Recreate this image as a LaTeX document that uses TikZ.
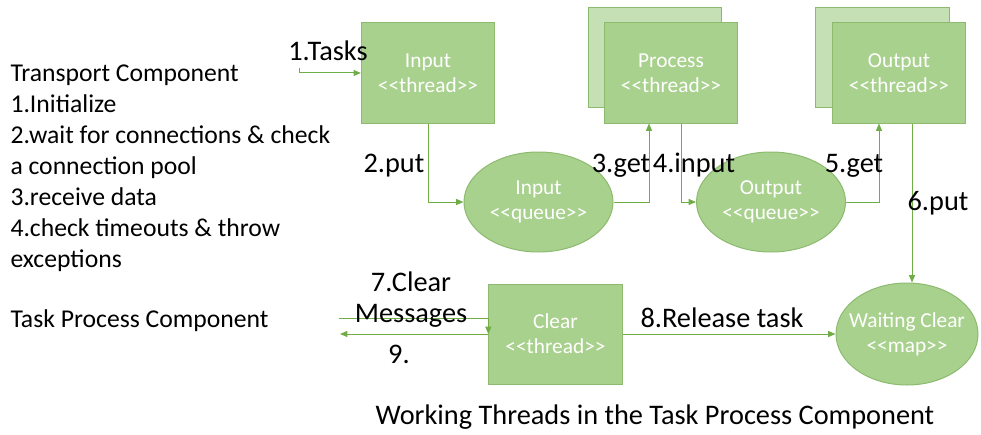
\documentclass[tikz,border=0pt]{standalone}
\usepackage{fontspec}
\newfontfamily\carlito{Carlito}
\usetikzlibrary{shapes.geometric,arrows.meta,calc}

\definecolor{boxfill}{RGB}{169,209,142}
\definecolor{backfill}{RGB}{197,224,180}
\definecolor{boxline}{RGB}{140,186,110}
\definecolor{flowline}{RGB}{112,173,71}

\tikzset{every picture/.style={line width=0.75pt}}
\tikzset{
  thread/.style={draw=boxline, fill=boxfill, minimum width=100pt, minimum height=75pt, inner sep=0pt,
    text=white, align=center, font=\fontsize{16}{18.75}\selectfont},
  backthread/.style={thread, fill=backfill},
  queue/.style={ellipse, draw=boxline, fill=boxfill, minimum width=111.75pt, minimum height=75pt, inner sep=0pt},
  intext/.style={text=white, align=center, inner sep=0pt, font=\fontsize{16}{18.75}\selectfont},
  flow/.style={draw=flowline, -{Triangle[length=5.5pt,width=4.5pt]}},
  lbl/.style={font=\fontsize{21.25}{23.25}\selectfont, inner sep=0pt, anchor=base},
  sidetext/.style={font=\fontsize{19.25}{23.25}\selectfont, inner sep=0pt, anchor=base west, align=left},
}

\begin{document}
\carlito
\begin{tikzpicture}[x=0.75pt,y=0.75pt,yscale=-1]
\useasboundingbox (0,0) rectangle (981,435);

%Shape: threads
\node[thread] (input) at (428,73) {Input\\<<thread>>};
\node[backthread] (procback) at (655,57.5) {};
\node[thread] (proc) at (671,73) {Process\\<<thread>>};
\node[backthread] (outback) at (882.5,57.5) {};
\node[thread] (outp) at (899,73) {Output\\<<thread>>};
\node[thread] (clear) at (555.5,334) {Clear\\<<thread>>};

%Shape: queues and map
\node[queue, label={[intext]center:Input\\<<queue>>}] (iq) at (538.5,202) {};
\node[queue, label={[intext]center:Output\\<<queue>>}] (oq) at (771,202) {};
\node[queue, minimum width=106.5pt, minimum height=76.5pt,
  label={[intext]center:Waiting Clear\\<<map>>}] (wait) at (907,334) {};

%Straight Lines: flow
\coordinate (taskin) at (299,68);
\draw[flow] (taskin) |- (input.west);
\draw[flow] (input.south) |- (iq.west);
\draw[flow] (iq.east) -| ($(proc.south)+(-22,0)$);
\draw[flow] ($(proc.south)+(10,0)$) |- (oq.west);
\draw[flow] (oq.east) -| ($(outp.south)+(-20,0)$);
\draw[flow] ($(outp.south)+(13,0)$) coordinate (putsrc) -- (putsrc |- wait.north);
\coordinate (msgin) at (339,318);
\draw[flow] (msgin) -| (clear.west);
\coordinate (msgout) at (340,335);
\draw[flow] (clear.west) -- (clear.west -| msgout);
\draw[flow] (clear.east) -- (wait.west);

% Text Node
\node[lbl] (tasks) at (328,61) {1.Tasks};
\node[lbl] (put2) at (394,172) {2.put};
\node[lbl] (get3) at (621,172) {3.get};
\node[lbl] (input4) at (694,172) {4.input};
\node[lbl] (get5) at (854,172) {5.get};
\node[lbl] (put6) at (938,210) {6.put};
\node[lbl, align=center] (clearmsg) at (411,322) {7.Clear\\Messages};
\node[lbl] (nine) at (399,363) {9.};
\node[lbl] (release) at (722,327) {8.Release task};

% Text Node: left side
\node[sidetext] (transport) at (10,267.5) {Transport Component\\1.Initialize\\2.wait for connections \& check\\a connection pool\\3.receive data\\4.check timeouts \& throw\\exceptions};
\node[sidetext] (taskproc) at (10,327) {Task Process Component};

% Text Node: title
\node[lbl] (title) at (655,424) {Working Threads in the Task Process Component};

\end{tikzpicture}
\end{document}
